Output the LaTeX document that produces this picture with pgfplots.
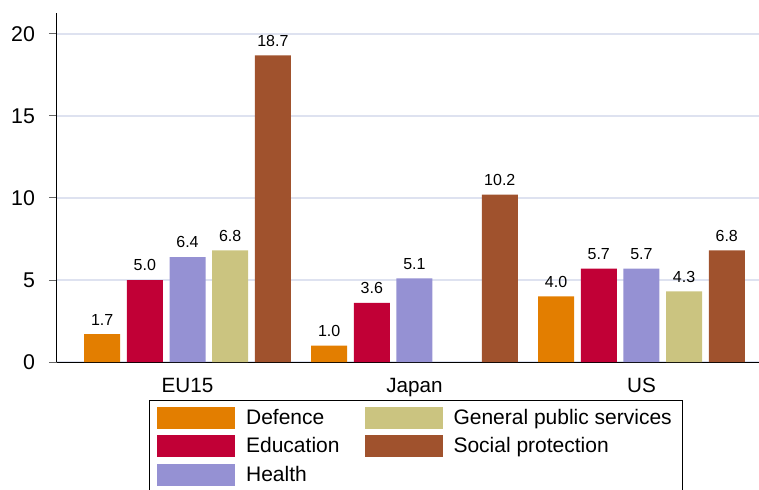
\documentclass[border=0pt]{standalone}
\usepackage{pgfplots}
\pgfplotsset{compat=1.18}
\usepackage{fontspec}
\setmainfont{Liberation Sans}

\definecolor{defence}{RGB}{227,126,0}
\definecolor{education}{RGB}{193,0,54}
\definecolor{health}{RGB}{149,145,211}
\definecolor{gps}{RGB}{203,196,128}
\definecolor{social}{RGB}{160,82,45}
\definecolor{gridc}{RGB}{222,226,240}

\begin{document}
\begin{tikzpicture}
\begin{axis}[
at={(0,0)}, anchor=south west,
scale only axis,
width=526.5pt, height=261.75pt,
xmin=-0.575, xmax=2.518,
ymin=0, ymax=21.28,
axis lines*=left,
axis line style={-, black, line width=0.75pt},
ybar, bar width=27pt,
xtick={0,1,2}, xticklabels={EU15,Japan,US},
x tick style={draw=none},
xticklabel style={font=\fontsize{15.5}{18}\selectfont, yshift=-2.5pt},
ytick={0,5,10,15,20},
tick align=outside,
major tick length=6pt,
y tick style={draw=gray!80!black, line width=0.75pt},
yticklabel style={font=\fontsize{16}{19}\selectfont, xshift=-7pt},
/pgf/number format/assume math mode=true,
ymajorgrids, y grid style={gridc, line width=1pt},
nodes near coords={\pgfmathprintnumber[fixed,fixed zerofill,precision=1]{\pgfplotspointmeta}},
nodes near coords style={font=\fontsize{12}{14}\selectfont, inner sep=0pt, anchor=south, yshift=6.5pt, black},
legend columns=2,
legend cell align=left,
legend image code/.code={\path[#1, draw=none] (0pt,-8.25pt) rectangle (58.5pt,8.25pt);},
legend style={at={(axis description cs:0.131,-0.11)}, anchor=north west,
  draw=black, line width=0.75pt, font=\fontsize{15.75}{18}\selectfont,
  inner xsep=6pt, inner ysep=4pt, row sep=4.75pt,
  /tikz/every even column/.append style={column sep=17pt},
  /tikz/every odd column/.append style={column sep=6pt}},
]
\addplot[fill=defence, draw=none, bar shift=-64pt] coordinates {(0,1.7) (1,1.0) (2,4.0)};
\addlegendentry{Defence}
\addplot[fill=gps, draw=none, bar shift=32pt] coordinates {(0,6.8) (2,4.3)};
\addlegendentry{General public services}
\addplot[fill=education, draw=none, bar shift=-32pt] coordinates {(0,5.0) (1,3.6) (2,5.7)};
\addlegendentry{Education}
\addplot[fill=social, draw=none, bar shift=64pt] coordinates {(0,18.7) (1,10.2) (2,6.8)};
\addlegendentry{Social protection}
\addplot[fill=health, draw=none, bar shift=0pt] coordinates {(0,6.4) (1,5.1) (2,5.7)};
\addlegendentry{Health}
\end{axis}
\pgfresetboundingbox
\path[use as bounding box] (-42.75pt,-95.25pt) rectangle (526.5pt,271.5pt);
\end{tikzpicture}
\end{document}
